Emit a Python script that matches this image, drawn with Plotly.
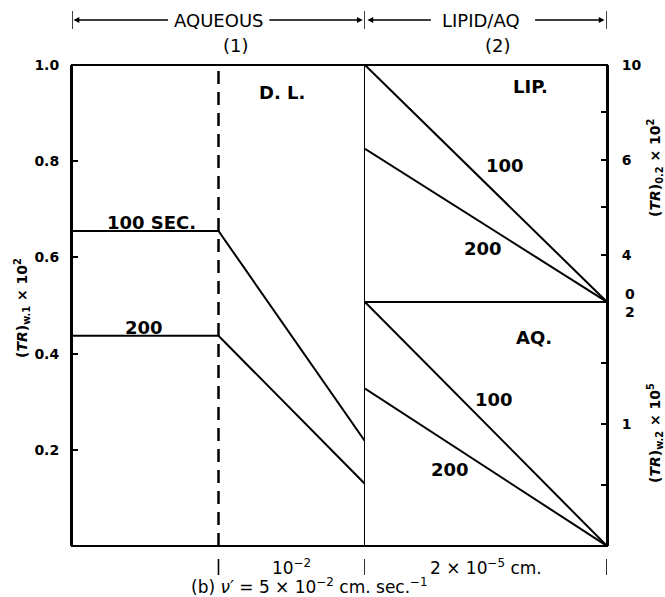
import plotly.graph_objects as go

# ---------------- data ----------------
# Aqueous + diffusion layer (left axis, (TR)w.1 x 10^2); x: 0-1 aqueous, 1-2 D.L.
aq_x = [0, 1, 2]
aq_100 = [0.655, 0.655, 0.218]
aq_200 = [0.437, 0.437, 0.129]

# Lipid phase (upper right axis, (TR)0.2 x 10^2)
lip_x = [0, 1]
lip_100 = [10.0, 0.0]
lip_200 = [6.46, 0.0]

# Aqueous phase within lipid/aq (lower right axis, (TR)w.2 x 10^5)
aqp_x = [0, 1]
aqp_100 = [2.0, 0.0]
aqp_200 = [1.29, 0.0]

left_ticks = [0.2, 0.4, 0.6, 0.8, 1.0]
left_labels = ["0.2", "0.4", "0.6", "0.8", "1.0"]
up_ticks = [0, 2, 4, 6, 8, 10]
up_labels = ["", "4", "", "6", "", "10"]
low_ticks = [0, 0.5, 1, 1.5, 2]
low_labels = ["", "", "1", "", ""]

FONT = "DejaVu Sans"
BOLD = dict(family=FONT, size=14, color="black", weight="bold")
LAB = dict(family=FONT, size=18, color="black", weight="bold")
REG = dict(family=FONT, size=17, color="black")

W, H = 665, 597
ML, MR, MT, MB = 72, 58, 65, 51
plot_w = W - ML - MR
plot_h = H - MT - MB
xsplit = (365 - ML) / plot_w
ysplit = (H - MB - 302) / plot_h

fig = go.Figure()
line = dict(color="black", width=2)
fig.add_trace(go.Scatter(x=aq_x, y=aq_100, mode="lines", line=line, xaxis="x", yaxis="y", cliponaxis=False))
fig.add_trace(go.Scatter(x=aq_x, y=aq_200, mode="lines", line=line, xaxis="x", yaxis="y", cliponaxis=False))
fig.add_trace(go.Scatter(x=lip_x, y=lip_100, mode="lines", line=line, xaxis="x2", yaxis="y2", cliponaxis=False))
fig.add_trace(go.Scatter(x=lip_x, y=lip_200, mode="lines", line=line, xaxis="x2", yaxis="y2", cliponaxis=False))
fig.add_trace(go.Scatter(x=aqp_x, y=aqp_100, mode="lines", line=line, xaxis="x2", yaxis="y3", cliponaxis=False))
fig.add_trace(go.Scatter(x=aqp_x, y=aqp_200, mode="lines", line=line, xaxis="x2", yaxis="y3", cliponaxis=False))

noax = dict(showgrid=False, zeroline=False, showticklabels=False, ticks="", showline=False, fixedrange=True)
ycommon = dict(showgrid=False, zeroline=False, ticks="inside", ticklen=6, tickwidth=2,
               tickcolor="black", tickfont=BOLD, showline=True, linecolor="black", linewidth=2,
               fixedrange=True)

fig.update_layout(
    width=W, height=H, margin=dict(l=ML, r=MR, t=MT, b=MB),
    paper_bgcolor="white", plot_bgcolor="white", showlegend=False,
    xaxis=dict(domain=[0, xsplit], range=[0, 2], anchor="y", **noax),
    xaxis2=dict(domain=[xsplit, 1], range=[0, 1], anchor="y3", **noax),
    yaxis=dict(domain=[0, 1], range=[0, 1], anchor="x", tickvals=left_ticks, ticktext=left_labels,
               ticklabelstandoff=8, **ycommon),
    yaxis2=dict(domain=[ysplit, 1], range=[0, 10], anchor="x2", side="right", tickvals=up_ticks,
                ticktext=up_labels, ticklabelstandoff=10, **ycommon),
    yaxis3=dict(domain=[0, ysplit], range=[0, 2], anchor="x2", side="right", tickvals=low_ticks,
                ticktext=low_labels, ticklabelstandoff=10, **ycommon),
)

def py(pix):
    return (H - MB - pix) / plot_h

shapes = [
    dict(type="rect", xref="paper", yref="paper", x0=0, x1=1, y0=0, y1=1, line=dict(color="black", width=2)),
    dict(type="line", xref="x", yref="paper", x0=1, x1=1, y0=0, y1=1,
         line=dict(color="black", width=2.5, dash="13px,8px")),
    dict(type="line", xref="x", yref="paper", x0=2, x1=2, y0=0, y1=1, line=dict(color="black", width=2)),
    dict(type="line", xref="x2", yref="paper", x0=0, x1=1, y0=ysplit, y1=ysplit, line=dict(color="black", width=2)),
]
# header bars
hy = py(20)
for xr, xv in [("x", 0), ("x", 2), ("x2", 1)]:
    shapes.append(dict(type="line", xref=xr, yref="paper", x0=xv, x1=xv,
                       y0=hy - 9 / plot_h, y1=hy + 9 / plot_h, line=dict(color="black", width=1.5)))
# bottom boundary marks
for xr, xv in [("x", 1), ("x", 2), ("x2", 1)]:
    shapes.append(dict(type="line", xref=xr, yref="paper", x0=xv, x1=xv,
                       y0=py(559), y1=py(575), line=dict(color="black", width=1.6)))
fig.update_layout(shapes=shapes)

ann = []
def arrow(xr, xv, ax):
    ann.append(dict(xref=xr, yref="paper", x=xv, y=hy, ax=ax, ay=0, axref="pixel", ayref="pixel",
                    text="", showarrow=True, arrowhead=2, arrowsize=0.9, arrowwidth=1.3, arrowcolor="black"))

def txt(xr, yr, xv, yv, t, font, angle=0, xanchor="center"):
    ann.append(dict(xref=xr, yref=yr, x=xv, y=yv, text=t, showarrow=False, font=font,
                    textangle=angle, xanchor=xanchor, yanchor="middle"))

HDR = dict(family=FONT, size=18, color="black")
txt("x", "paper", 1.0, hy, "AQUEOUS", HDR)
txt("x", "paper", 1.12, py(45), "(1)", HDR)
txt("x2", "paper", 0.479, hy, "LIPID/AQ", HDR)
txt("x2", "paper", 0.55, py(45), "(2)", HDR)
arrow("x", 0.01, 96)
arrow("x", 1.985, -95)
arrow("x2", 0.01, 65)
arrow("x2", 0.99, -71)

# curve labels
for xr, yr, xv, yv, t in [
    ("x", "y", 0.546, 0.672, "100 SEC."),
    ("x", "y", 0.49, 0.455, "200"),
    ("x", "y", 1.433, 0.942, "D. L."),
    ("x2", "y2", 0.682, 9.11, "LIP."),
    ("x2", "y2", 0.579, 5.78, "100"),
    ("x2", "y2", 0.488, 2.24, "200"),
    ("x2", "y3", 0.698, 1.713, "AQ."),
    ("x2", "y3", 0.533, 1.197, "100"),
    ("x2", "y3", 0.351, 0.631, "200"),
]:
    txt(xr, yr, xv, yv, t, LAB)

# right-axis boundary labels
txt("paper", "paper", (623 - ML) / plot_w, py(294), "0", BOLD, xanchor="left")
txt("paper", "paper", (623 - ML) / plot_w, py(312), "2", BOLD, xanchor="left")

# axis titles
TT = dict(family=FONT, size=14, color="black", weight="bold")
txt("paper", "paper", (22 - ML) / plot_w, py(308), "(<i>TR</i>)<sub>w.1</sub> × 10<sup>2</sup>", TT, -90)
txt("paper", "paper", (655 - ML) / plot_w, py(168), "(<i>TR</i>)<sub>0.2</sub> × 10<sup>2</sup>", TT, -90)
txt("paper", "paper", (655 - ML) / plot_w, py(433), "(<i>TR</i>)<sub>w.2</sub> × 10<sup>5</sup>", TT, -90)

# bottom labels
by = py(567)
txt("x", "paper", 1.5, by, "10<sup>−2</sup>", REG)
txt("x2", "paper", 0.5, by, "2 × 10<sup>−5</sup> cm.", REG)
txt("paper", "paper", (309 - ML) / plot_w, py(586),
    "(b) <i>ν′</i> = 5 × 10<sup>−2</sup> cm. sec.<sup>−1</sup>", REG)

fig.update_layout(annotations=ann)
fig.write_html("out.html", config={"displayModeBar": False},
               post_script="document.body.style.margin='0';document.body.style.padding='0';")
